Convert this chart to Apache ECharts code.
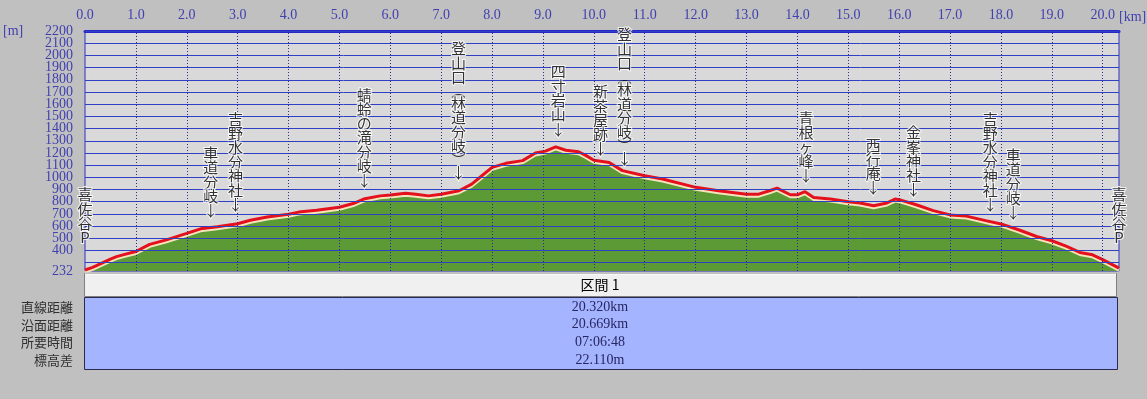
<!DOCTYPE html>
<html>
<head>
<meta charset="utf-8">
<script src="https://cdn.jsdelivr.net/npm/echarts@6/dist/echarts.min.js"></script>
<style>
html,body{margin:0;padding:0;background:#c0c0c0;}
#chart{width:1147px;height:399px;}
</style>
</head>
<body>
<div id="chart"></div>
<script>
// ---- data ----
const distKm = [0, 0.15, 0.3, 0.5, 0.62, 0.8, 1.0, 1.27, 1.6, 2.0, 2.27, 2.6, 3.0, 3.25, 3.58, 4.0, 4.2, 4.55, 5.0, 5.27, 5.5, 5.8, 6.0, 6.3, 6.5, 6.75, 7.0, 7.35, 7.6, 7.8, 8.0, 8.27, 8.6, 8.85, 9.05, 9.25, 9.45, 9.7, 9.84, 10.0, 10.3, 10.56, 11.0, 11.35, 12.0, 12.45, 13.0, 13.24, 13.45, 13.6, 13.86, 14.0, 14.15, 14.32, 14.65, 15.0, 15.23, 15.5, 15.76, 15.92, 16.0, 16.35, 16.67, 17.0, 17.32, 17.7, 18.0, 18.36, 18.7, 19.0, 19.28, 19.55, 19.8, 20.0, 20.32];
const elevM = [240, 262, 290, 330, 350, 370, 392, 450, 487, 540, 578, 595, 620, 648, 675, 697, 715, 730, 755, 785, 825, 848, 855, 870, 862, 848, 862, 890, 945, 1013, 1082, 1115, 1137, 1200, 1215, 1250, 1222, 1210, 1180, 1140, 1122, 1055, 1013, 986, 918, 890, 862, 862, 890, 912, 857, 857, 882, 835, 822, 800, 790, 767, 790, 822, 817, 773, 727, 692, 682, 645, 618, 568, 515, 480, 436, 384, 365, 325, 255];

const xTicks = [0,1,2,3,4,5,6,7,8,9,10,11,12,13,14,15,16,17,18,19,20];
const yGridLines = [300,400,500,600,700,800,900,1000,1100,1200,1300,1400,1500,1600,1700,1800,1900,2000,2100,2200];
const yTickLabels = [232,400,500,600,700,800,900,1000,1100,1200,1300,1400,1500,1600,1700,1800,1900,2000,2100,2200];

const placeNames = ['喜佐谷P','車道分岐↓','吉野水分神社↓','蜻蛉の滝分岐↓','登山口︵林道分岐︶↓','四寸岩山↓','新茶屋跡↓','登山口︵林道分岐︶↓','青根ヶ峰↓','西行庵↓','金峯神社↓','吉野水分神社↓','車道分岐↓','喜佐谷P'];
const placeKm    = [0, 2.47, 2.96, 5.49, 7.34, 9.30, 10.13, 10.60, 14.17, 15.49, 16.28, 17.79, 18.24, 20.32];
const placeTipM  = [447, 668, 717, 914, 980, 1338, 1176, 1094, 955, 856, 840, 717, 652, 447];

const sectionTitle = '区間 1';
const tableLabels = ['直線距離','沿面距離','所要時間','標高差'];
const tableValues = ['20.320km','20.669km','07:06:48','22.110m'];

// ---- build ----
const profile = distKm.map((k,i)=>[k, elevM[i]]);
const places = placeKm.map((k,i)=>({value:[k, placeTipM[i]], name: placeNames[i]}));

const chart = echarts.init(document.getElementById('chart'), null, {renderer:'canvas'});
const serif = '"Liberation Serif", "DejaVu Serif", serif';
const cjk = '"Noto Sans CJK JP", "Noto Sans", sans-serif';
const axisBlue = '#4040b0';

const gL = 85, gR = 1119, gT = 31, gB = 271;

const graphics = [];
graphics.push({type:'text', left: 3, top: 24, style:{text:'[m]', font:'14px '+serif, fill: axisBlue}});
graphics.push({type:'text', left: 1119, top: 10, style:{text:'[km]', font:'14px '+serif, fill: axisBlue}});
// table header
graphics.push({type:'rect', shape:{x:84.5, y:273.5, width:1032, height:23}, style:{fill:'#f0f0f0', stroke:'#808080', lineWidth:1}});
graphics.push({type:'line', shape:{x1:85, y1:274, x2:1116, y2:274}, style:{stroke:'#ffffff', lineWidth:1}});
graphics.push({type:'text', x: 600, y: 285, style:{text: sectionTitle, font:'14px '+cjk, fill:'#000', align:'center', verticalAlign:'middle'}});
graphics.push({type:'rect', shape:{x:84.5, y:297.5, width:1033, height:72}, style:{fill:'#a4b4ff', stroke:'#2a2a50', lineWidth:1}});
tableLabels.forEach((t,i)=>{
  graphics.push({type:'text', x: 73, y: 307 + i*17.7, style:{text:t, font:'13px '+cjk, fill:'#303030', align:'right', verticalAlign:'middle'}});
  graphics.push({type:'text', x: 600, y: 307 + i*17.7, style:{text:tableValues[i], font:'14px '+serif, fill:'#262660', align:'center', verticalAlign:'middle'}});
});

const yLabelStyle = {show: true, position: 'start', distance: 12, color: axisBlue, fontFamily: serif, fontSize: 14};
const gridH = yGridLines.map(v => {
  const item = {yAxis: v, lineStyle: {color: '#3040c4', width: 1, type: 'solid'}};
  if (yTickLabels.indexOf(v) >= 0) item.label = Object.assign({formatter: String(v)}, yLabelStyle);
  return item;
});
const labelOnly = yTickLabels.filter(v => yGridLines.indexOf(v) < 0).map(v => ({yAxis: v,
  lineStyle: {color: 'rgba(0,0,0,0)', width: 1}, label: Object.assign({formatter: String(v)}, yLabelStyle)}));

const option = {
  backgroundColor: '#c0c0c0',
  animation: false,
  grid: {left: gL, right: 1147-gR, top: gT, bottom: 399-gB, show: true, backgroundColor: '#d9d9d9', borderColor: '#3030c0', borderWidth: 1},
  xAxis: {
    type: 'value', position: 'top', min: 0, max: 20.32, interval: 1,
    axisLine: {show: true, lineStyle: {color: '#2828c8', width: 3}},
    axisTick: {show: false},
    splitLine: {show: false},
    axisLabel: {show: true, margin: 9, color: axisBlue, fontFamily: serif, fontSize: 14, showMaxLabel: false,
      formatter: v => (Math.abs(v - Math.round(v)) < 1e-6 ? v.toFixed(1) : '')}
  },
  yAxis: {
    type: 'value', min: 232, max: 2200,
    axisLine: {show: false}, axisTick: {show: false}, splitLine: {show: false},
    axisLabel: {show: false}
  },
  series: [
    {
      type: 'line', data: profile, symbol: 'none', z: 1,
      lineStyle: {width: 0},
      areaStyle: {color: '#5c9a36', opacity: 1},
      silent: true
    },
    {
      type: 'line', data: [], z: 2, silent: true,
      markLine: {
        silent: true, symbol: ['none','none'], animation: false,
        label: {show: false},
        data: gridH.concat(labelOnly)
          .concat(xTicks.slice(1).map(v => ({xAxis: v, lineStyle: {color: '#2a2a90', width: 1, type: [1,2]}})))
      }
    },
    {
      type: 'line', data: profile, symbol: 'none', z: 3, silent: true,
      lineStyle: {color: '#e4101c', width: 3, shadowColor: '#f3e4bc', shadowOffsetY: 2, shadowBlur: 0}
    },
    {
      type: 'scatter', data: places, symbolSize: 0, z: 5, silent: true,
      label: {
        show: true, position: 'top', distance: 0,
        formatter: p => p.name.split('').map(c => (c === '︵' || c === '︶') ? '{p|' + c + '}' : c).join('\n'),
        fontFamily: cjk, fontSize: 15, lineHeight: 14.3, color: '#000',
        textBorderColor: '#ffffff', textBorderWidth: 2, align: 'center',
        rich: {p: {fontFamily: cjk, fontSize: 14, lineHeight: 12, color: '#000', textBorderWidth: 0}}
      }
    }
  ],
  graphic: graphics
};
chart.setOption(option);
</script>
</body>
</html>
